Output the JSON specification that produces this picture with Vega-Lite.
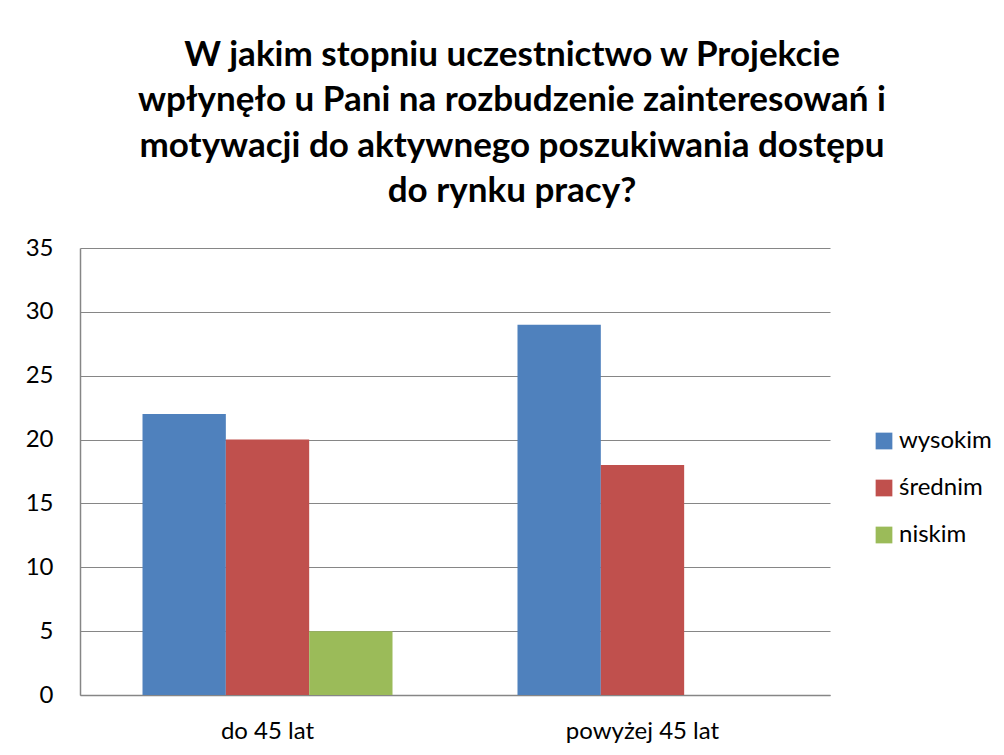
{
  "$schema": "https://vega.github.io/schema/vega-lite/v6.json",
  "autosize": "none",
  "width": 750,
  "height": 447,
  "padding": {"left": 80, "top": 248, "right": 174, "bottom": 60},
  "background": "white",
  "title": {
    "text": ["W jakim stopniu uczestnictwo w Projekcie", "wpłynęło u Pani na rozbudzenie zainteresowań i", "motywacji do aktywnego poszukiwania dostępu", "do rynku pracy?"],
    "font": "Lato",
    "fontSize": 35,
    "fontWeight": "bold",
    "lineHeight": 45.5,
    "color": "#000000",
    "anchor": "middle",
    "dx": 57,
    "offset": 27
  },
  "data": {
    "values": [
      {"grupa": "do 45 lat", "odpowiedz": "wysokim", "liczba": 22},
      {"grupa": "do 45 lat", "odpowiedz": "średnim", "liczba": 20},
      {"grupa": "do 45 lat", "odpowiedz": "niskim", "liczba": 5},
      {"grupa": "powyżej 45 lat", "odpowiedz": "wysokim", "liczba": 29},
      {"grupa": "powyżej 45 lat", "odpowiedz": "średnim", "liczba": 18},
      {"grupa": "powyżej 45 lat", "odpowiedz": "niskim", "liczba": 0}
    ]
  },
  "mark": {"type": "bar"},
  "encoding": {
    "x": {
      "field": "grupa",
      "type": "nominal",
      "sort": ["do 45 lat", "powyżej 45 lat"],
      "scale": {"paddingInner": 0.3333, "paddingOuter": 0.1667},
      "axis": {
        "title": null,
        "labelAngle": 0,
        "labelFont": "Lato",
        "labelFontSize": 24,
        "labelColor": "#000000",
        "labelPadding": 24,
        "ticks": false,
        "domainColor": "#868686",
        "domainWidth": 1.5
      }
    },
    "xOffset": {
      "field": "odpowiedz",
      "type": "nominal",
      "sort": ["wysokim", "średnim", "niskim"],
      "scale": {"paddingInner": 0, "paddingOuter": 0}
    },
    "y": {
      "field": "liczba",
      "type": "quantitative",
      "scale": {"domain": [0, 35], "nice": false},
      "axis": {
        "title": null,
        "values": [0, 5, 10, 15, 20, 25, 30, 35],
        "labelFont": "Lato",
        "labelFontSize": 24,
        "labelColor": "#000000",
        "labelPadding": 27,
        "ticks": false,
        "domainColor": "#868686",
        "domainWidth": 1.5,
        "grid": true,
        "gridColor": "#868686",
        "gridWidth": 1.2
      }
    },
    "color": {
      "field": "odpowiedz",
      "type": "nominal",
      "sort": ["wysokim", "średnim", "niskim"],
      "scale": {"domain": ["wysokim", "średnim", "niskim"], "range": ["#4F81BD", "#C0504D", "#9BBB59"]},
      "legend": {
        "title": null,
        "orient": "none",
        "legendX": 792,
        "legendY": 181,
        "symbolType": "square",
        "symbolSize": 280,
        "symbolStrokeWidth": 0,
        "labelFont": "Lato",
        "labelFontSize": 24,
        "labelColor": "#000000",
        "labelOffset": 3,
        "rowPadding": 23
      }
    }
  },
  "config": {
    "view": {"stroke": null}
  }
}
